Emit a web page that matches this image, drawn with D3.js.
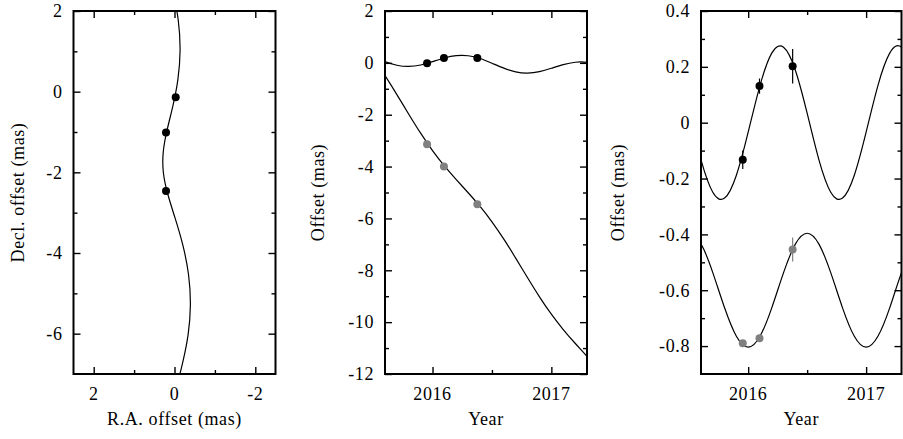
<!DOCTYPE html>
<html>
<head>
<meta charset="utf-8">
<script src="https://cdn.jsdelivr.net/npm/d3@7"></script>
<style>
  html, body { margin: 0; padding: 0; background: #fff; }
  svg { display: block; }
</style>
</head>
<body>
<svg id="fig" width="903" height="439"></svg>
<script>
// ---- Orbit + parallax + proper-motion model, sampled every 0.1 yr ----
const modelYears = [2015.5, 2015.6, 2015.7, 2015.8, 2015.9, 2016.0, 2016.1, 2016.2, 2016.3, 2016.4,
                    2016.5, 2016.6, 2016.7, 2016.8, 2016.9, 2017.0, 2017.1, 2017.2, 2017.3, 2017.4];
// R.A. offset of the full model (mas)
const raModel  = [0.243, 0.050, -0.092, -0.138, -0.082, 0.047, 0.189, 0.279, 0.275, 0.167,
                  -0.013, -0.205, -0.347, -0.393, -0.337, -0.208, -0.067, 0.024, 0.020, -0.088];
// Decl. offset of the full model (mas)
const decModel = [0.180, -0.490, -1.223, -1.980, -2.713, -3.383, -3.975, -4.504, -5.009, -5.538,
                  -6.130, -6.800, -7.533, -8.290, -9.023, -9.693, -10.285, -10.814, -11.319, -11.848];
// Decl. of the sky track, relative to the first epoch's reference point (mas)
const trackDec = [3.180, 2.510, 1.777, 1.020, 0.287, -0.383, -0.975, -1.504, -2.009, -2.538,
                  -3.130, -3.800, -4.533, -5.290, -6.023, -6.693, -7.285, -7.814, -8.319, -8.848];
// Model with proper motion removed (mas)
const raNoPM  = [0.034, -0.133, -0.249, -0.270, -0.188, -0.034, 0.133, 0.249, 0.270, 0.188,
                 0.034, -0.133, -0.249, -0.270, -0.188, -0.034, 0.133, 0.249, 0.270, 0.188];
const decNoPM = [-0.396, -0.435, -0.537, -0.663, -0.765, -0.804, -0.765, -0.663, -0.537, -0.435,
                 -0.396, -0.435, -0.537, -0.663, -0.765, -0.804, -0.765, -0.663, -0.537, -0.435];

// ---- Measured positions ----
const obsYears = [2015.954, 2016.096, 2016.377];
const skyRA    = [-0.03, 0.21, 0.21];
const skyDec   = [-0.14, -1.01, -2.46];
const obsRA    = [-0.015, 0.19, 0.19];
const obsDec   = [-3.14, -4.0, -5.45];
const resRA    = [-0.133, 0.131, 0.202];
const resRAErr = [0.033, 0.027, 0.062];
const resDec   = [-0.790, -0.772, -0.454];
const resDecErr = [0.012, 0.012, 0.043];

// ---- Ticks ----
const skyXMajor = [2, 0, -2],            skyXMinor = [1, -1];
const skyYMajor = [2, 0, -2, -4, -6],    skyYMinor = [1, -1, -3, -5];
const yearMajor = [2016, 2017],          yearMinor = [2016.5];
const offYMajor = [2, 0, -2, -4, -6, -8, -10, -12], offYMinor = [1, -1, -3, -5, -7, -9, -11];
const resYMajor = [0.4, 0.2, 0, -0.2, -0.4, -0.6, -0.8];
const resYMinor = [0.3, 0.1, -0.1, -0.3, -0.5, -0.7];

const GREY = "#808080";
const FONT = "'Liberation Serif', 'Times New Roman', Times, serif";
const svg = d3.select("#fig");
const plotTop = 11, plotBottom = 374;

function panel(opts) {
  const { left, pw, xDomain, yDomain, xMajor, xMinor, yMajor, yMinor, xTitle, yTitle, yTitleX, id } = opts;
  const x = d3.scaleLinear().domain(xDomain).range([left, left + pw]);
  const y = d3.scaleLinear().domain(yDomain).range([plotBottom, plotTop]);
  const g = svg.append("g");

  g.append("clipPath").attr("id", id).append("rect")
    .attr("x", left).attr("y", plotTop).attr("width", pw).attr("height", plotBottom - plotTop);
  const plot = g.append("g").attr("clip-path", `url(#${id})`);

  // inward ticks on all four sides
  const tickAxis = (axisFn, scale, vals, size, tx, ty) => {
    const a = g.append("g").attr("transform", `translate(${tx},${ty})`)
      .call(axisFn(scale).tickValues(vals).tickSize(-size).tickFormat(""));
    a.select(".domain").remove();
    a.selectAll("line").attr("stroke", "#000").attr("stroke-width", 1.4);
  };
  tickAxis(d3.axisBottom, x, xMajor, 7, 0, plotBottom);
  tickAxis(d3.axisBottom, x, xMinor, 4, 0, plotBottom);
  tickAxis(d3.axisTop, x, xMajor, 7, 0, plotTop);
  tickAxis(d3.axisTop, x, xMinor, 4, 0, plotTop);
  tickAxis(d3.axisLeft, y, yMajor, 7, left, 0);
  tickAxis(d3.axisLeft, y, yMinor, 4, left, 0);
  tickAxis(d3.axisRight, y, yMajor, 7, left + pw, 0);
  tickAxis(d3.axisRight, y, yMinor, 4, left + pw, 0);

  // tick labels and titles
  const txt = g.append("g").attr("font-family", FONT).attr("font-size", 18)
    .attr("letter-spacing", "0.6px").attr("fill", "#000");
  txt.selectAll(".xl").data(xMajor).join("text")
    .attr("x", d => x(d)).attr("y", 400).attr("text-anchor", "middle").text(d => String(d));
  txt.selectAll(".yl").data(yMajor).join("text")
    .attr("x", left - 11).attr("y", d => y(d)).attr("dy", "0.35em")
    .attr("text-anchor", "end").text(d => String(d));
  txt.append("text").attr("x", left + pw / 2).attr("y", 425)
    .attr("text-anchor", "middle").text(xTitle);
  txt.append("text").attr("transform", `translate(${yTitleX},${(plotTop + plotBottom) / 2}) rotate(-90)`)
    .attr("text-anchor", "middle").text(yTitle);

  // frame
  g.append("rect").attr("x", left).attr("y", plotTop).attr("width", pw).attr("height", plotBottom - plotTop)
    .attr("fill", "none").attr("stroke", "#000").attr("stroke-width", 2);

  return { x, y, plot };
}

function curve(p, xs, ys) {
  const line = d3.line().curve(d3.curveNatural).x((d, i) => p.x(xs[i])).y((d, i) => p.y(ys[i]));
  p.plot.append("path").datum(xs).attr("d", line)
    .attr("fill", "none").attr("stroke", "#000").attr("stroke-width", 1.2);
}

function dots(p, xs, ys, color, errs) {
  if (errs) {
    p.plot.append("g").selectAll("line").data(xs).join("line")
      .attr("x1", d => p.x(d)).attr("x2", d => p.x(d))
      .attr("y1", (d, i) => p.y(ys[i] - errs[i])).attr("y2", (d, i) => p.y(ys[i] + errs[i]))
      .attr("stroke", color).attr("stroke-width", 1.2);
  }
  p.plot.append("g").selectAll("circle").data(xs).join("circle")
    .attr("cx", d => p.x(d)).attr("cy", (d, i) => p.y(ys[i])).attr("r", 4).attr("fill", color);
}

// Sky-plane track
const sky = panel({ id: "c1", left: 73.5, pw: 202, xDomain: [2.5, -2.5], yDomain: [-7, 2],
  xMajor: skyXMajor, xMinor: skyXMinor, yMajor: skyYMajor, yMinor: skyYMinor,
  xTitle: "R.A. offset (mas)", yTitle: "Decl. offset (mas)", yTitleX: 23.5 });
curve(sky, raModel, trackDec);
dots(sky, skyRA, skyDec, "#000");

// Offsets versus time
const off = panel({ id: "c2", left: 385, pw: 202, xDomain: [2015.6, 2017.3], yDomain: [-12, 2],
  xMajor: yearMajor, xMinor: yearMinor, yMajor: offYMajor, yMinor: offYMinor,
  xTitle: "Year", yTitle: "Offset (mas)", yTitleX: 324 });
curve(off, modelYears, raModel);
curve(off, modelYears, decModel);
dots(off, obsYears, obsRA, "#000");
dots(off, obsYears, obsDec, GREY);

// Offsets with proper motion removed
const res = panel({ id: "c3", left: 701, pw: 200.5, xDomain: [2015.6, 2017.3], yDomain: [-0.9, 0.4],
  xMajor: yearMajor, xMinor: yearMinor, yMajor: resYMajor, yMinor: resYMinor,
  xTitle: "Year", yTitle: "Offset (mas)", yTitleX: 624 });
curve(res, modelYears, raNoPM);
curve(res, modelYears, decNoPM);
dots(res, obsYears, resRA, "#000", resRAErr);
dots(res, obsYears, resDec, GREY, resDecErr);
</script>
</body>
</html>
